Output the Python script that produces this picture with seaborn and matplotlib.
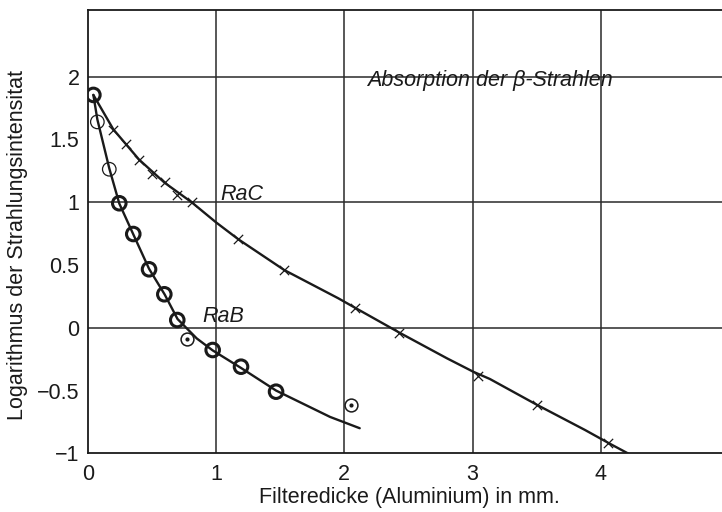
import matplotlib
matplotlib.use("Agg")
import matplotlib.pyplot as plt
import seaborn as sns

# ---- data ----
rab_bold_x = [0.044, 0.246, 0.355, 0.478, 0.597, 0.698, 0.974, 1.195, 1.468]
rab_bold_y = [1.855, 0.992, 0.747, 0.466, 0.267, 0.062, -0.177, -0.31, -0.509]
rab_thin_x = [0.075, 0.168]
rab_thin_y = [1.64, 1.263]
rab_dot_x = [0.77, 2.055]
rab_dot_y = [-0.092, -0.618]
rab_curve_x = [0.044, 0.075, 0.168, 0.246, 0.355, 0.478, 0.6, 0.7, 0.85, 0.974, 1.195, 1.468, 1.889, 2.12]
rab_curve_y = [1.855, 1.66, 1.27, 0.99, 0.745, 0.47, 0.265, 0.07, -0.085, -0.18, -0.32, -0.5, -0.71, -0.80]

rac_x = [0.2, 0.3, 0.4, 0.504, 0.603, 0.693, 0.81, 1.174, 1.532, 2.083, 2.43, 3.044, 3.504, 4.058]
rac_y = [1.576, 1.465, 1.337, 1.225, 1.164, 1.058, 1.005, 0.705, 0.46, 0.155, -0.039, -0.382, -0.615, -0.917]
rac_curve_x = [0.044, 0.2, 0.4, 0.6, 0.81, 1.0, 1.174, 1.532, 1.953, 2.083, 2.43, 2.8, 3.005, 3.135, 3.504, 3.876, 4.058, 4.21]
rac_curve_y = [1.855, 1.58, 1.34, 1.155, 1.0, 0.84, 0.705, 0.46, 0.235, 0.16, -0.039, -0.243, -0.35, -0.408, -0.615, -0.814, -0.917, -1.0]

x_ticks = [0, 1, 2, 3, 4]
x_tick_labels = ["0", "1", "2", "3", "4"]
y_ticks = [-1, -0.5, 0, 0.5, 1, 1.5, 2]
y_tick_labels = ["\u22121", "\u22120.5", "0", "0.5", "1", "1.5", "2"]
grid_x = [1, 2, 3, 4]
grid_y = [0, 1, 2]

title_text = "Absorption der \u03b2-Strahlen"
label_rab = "RaB"
label_rac = "RaC"
xlabel = "Filteredicke (Aluminium) in mm."
ylabel = "Logarithmus der Strahlungsintensitat"

# ---- styling ----
sns.set_style("white")
plt.rcParams["font.family"] = ["Liberation Sans", "DejaVu Sans"]

fig = plt.figure(figsize=(7.22, 5.12), dpi=100)
ax = fig.add_axes([0.1215, 0.1146, 0.8785, 0.866])

ink = "#1a1a1a"
fs = 15.5

# grid lines (integer values only)
for gx in grid_x:
    ax.axvline(gx, color="#2a2a2a", linewidth=1.1, zorder=1)
for gy in grid_y:
    ax.axhline(gy, color="#2a2a2a", linewidth=1.1, zorder=1)

# curves
sns.lineplot(x=rab_curve_x, y=rab_curve_y, ax=ax, sort=False, estimator=None,
             color=ink, linewidth=1.7, zorder=3)
sns.lineplot(x=rac_curve_x, y=rac_curve_y, ax=ax, sort=False, estimator=None,
             color=ink, linewidth=1.7, zorder=3)

# markers
sns.scatterplot(x=rab_bold_x, y=rab_bold_y, ax=ax, marker="o", s=95,
                facecolor="none", edgecolor=ink, linewidth=2.2, zorder=4)
sns.scatterplot(x=rab_thin_x, y=rab_thin_y, ax=ax, marker="o", s=95,
                facecolor="none", edgecolor=ink, linewidth=0.9, zorder=4)
sns.scatterplot(x=rab_dot_x, y=rab_dot_y, ax=ax, marker="o", s=85,
                facecolor="white", edgecolor=ink, linewidth=1.1, zorder=4)
sns.scatterplot(x=rab_dot_x, y=rab_dot_y, ax=ax, marker="o", s=9,
                color=ink, edgecolor=ink, linewidth=0, zorder=5)
sns.scatterplot(x=rac_x, y=rac_y, ax=ax, marker="x", s=45,
                color=ink, linewidth=0.9, zorder=4)

# annotations
ax.text(2.18, 1.93, title_text, fontsize=fs, style="italic", color=ink, zorder=6)
ax.text(0.89, 0.05, label_rab, fontsize=fs, style="italic", color=ink, zorder=6)
ax.text(1.03, 1.02, label_rac, fontsize=fs, style="italic", color=ink, zorder=6)

# axes
ax.set_xlim(0, 4.944)
ax.set_ylim(-1, 2.532)
ax.set_xticks(x_ticks)
ax.set_xticklabels(x_tick_labels)
ax.set_yticks(y_ticks)
ax.set_yticklabels(y_tick_labels)
ax.grid(False)
ax.tick_params(which="both", length=0, labelsize=fs, colors=ink)
ax.tick_params(axis="x", pad=8)
ax.tick_params(axis="y", pad=6)

ax.set_xlabel(xlabel, fontsize=fs, color=ink)
ax.set_ylabel(ylabel, fontsize=15.5, color=ink)
ax.xaxis.set_label_coords(0.508, -0.075)
ax.yaxis.set_label_coords(-0.094, 0.47)

for side in ["left", "bottom", "top"]:
    ax.spines[side].set_color(ink)
    ax.spines[side].set_linewidth(1.3)
ax.spines["right"].set_visible(False)

fig.savefig("out.png", dpi=100)
